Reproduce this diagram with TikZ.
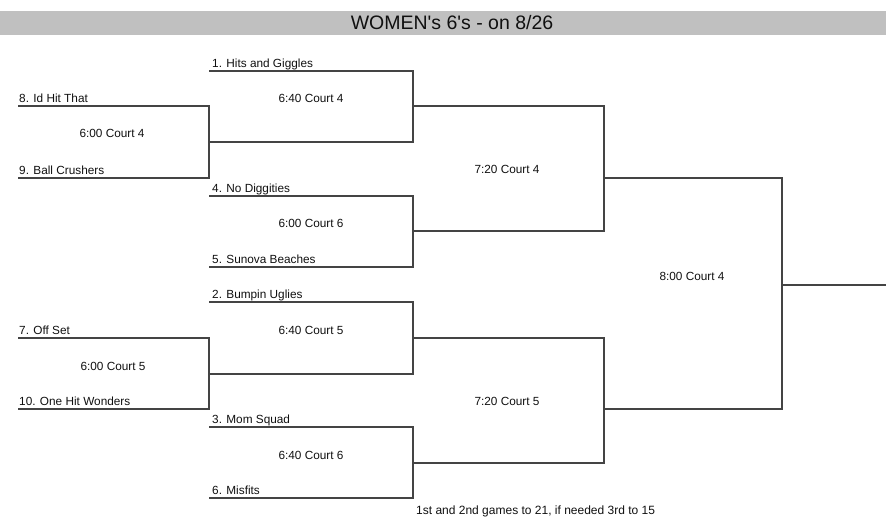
\documentclass[tikz,border=0pt]{standalone}
\usepackage{fontspec}
\setmainfont{Liberation Sans}[Ligatures=TeXOff]
\definecolor{barfill}{HTML}{C0C0C0}
\definecolor{lncol}{HTML}{444444}
\definecolor{txcol}{HTML}{101010}
\begin{document}
\begin{tikzpicture}[x=1pt,y=-1pt,
  team/.style={anchor=base west, font=\fontsize{11.8}{14}\selectfont, text=txcol, inner sep=0pt},
  game/.style={anchor=center, font=\fontsize{11.8}{14}\selectfont, text=txcol, inner sep=0pt},
  bracketline/.style={draw=lncol, line width=1.1pt}]
\useasboundingbox (0,0) rectangle (886,528);
\fill[barfill] (0,11) rectangle (886,35);
\node[font=\fontsize{19.5}{22}\selectfont, text=txcol, inner sep=0pt] (title) at (452,23) {WOMEN's 6's - on 8/26};

% bracket corner coordinates: top-left, bottom-right, bottom-left
% round 1
\coordinate (r1a-tl) at (18,106);  \coordinate (r1a-br) at (209,178); \coordinate (r1a-bl) at (18,178);
\coordinate (r1b-tl) at (18,338);  \coordinate (r1b-br) at (209,409); \coordinate (r1b-bl) at (18,409);
% round 2
\coordinate (r2a-tl) at (209,71);  \coordinate (r2a-br) at (413,142); \coordinate (r2a-bl) at (209,142);
\coordinate (r2b-tl) at (209,196); \coordinate (r2b-br) at (413,267); \coordinate (r2b-bl) at (209,267);
\coordinate (r2c-tl) at (209,302); \coordinate (r2c-br) at (413,374); \coordinate (r2c-bl) at (209,374);
\coordinate (r2d-tl) at (209,427); \coordinate (r2d-br) at (413,498); \coordinate (r2d-bl) at (209,498);
% round 3
\coordinate (r3a-tl) at (413,106); \coordinate (r3a-br) at (604,231); \coordinate (r3a-bl) at (413,231);
\coordinate (r3b-tl) at (413,338); \coordinate (r3b-br) at (604,463); \coordinate (r3b-bl) at (413,463);
% final
\coordinate (r4-tl) at (604,178);  \coordinate (r4-br) at (782,409); \coordinate (r4-bl) at (604,409);
\coordinate (win-a) at (782,285);  \coordinate (win-b) at (886,285);

\foreach \b in {r1a,r1b,r2a,r2b,r2c,r2d,r3a,r3b,r4}
  \draw[bracketline] (\b-tl) -| (\b-br) -- (\b-bl);
\draw[bracketline] (win-a) -- (win-b);

% team names
\node[team] (t8)  at (19,102) {8. Id Hit That};
\node[team] (t9)  at (19,174) {9. Ball Crushers};
\node[team] (t7)  at (19,334) {7. Off Set};
\node[team] (t10) at (19,405) {10. One Hit Wonders};
\node[team] (t1)  at (212,67)  {1. Hits and Giggles};
\node[team] (t4)  at (212,192) {4. No Diggities};
\node[team] (t5)  at (212,263) {5. Sunova Beaches};
\node[team] (t2)  at (212,298) {2. Bumpin Uglies};
\node[team] (t3)  at (212,423) {3. Mom Squad};
\node[team] (t6)  at (212,494) {6. Misfits};

% game labels
\node[game] (g1) at (112,133) {6:00 Court 4};
\node[game] (g2) at (311,98)  {6:40 Court 4};
\node[game] (g3) at (311,223) {6:00 Court 6};
\node[game] (g4) at (507,169) {7:20 Court 4};
\node[game] (g5) at (692,276) {8:00 Court 4};
\node[game] (g6) at (311,330) {6:40 Court 5};
\node[game] (g7) at (113,366) {6:00 Court 5};
\node[game] (g8) at (311,455) {6:40 Court 6};
\node[game] (g9) at (507,401) {7:20 Court 5};

\node[team, font=\fontsize{12}{14}\selectfont] (note) at (416,514) {1st and 2nd games to 21, if needed 3rd to 15};
\end{tikzpicture}
\end{document}
